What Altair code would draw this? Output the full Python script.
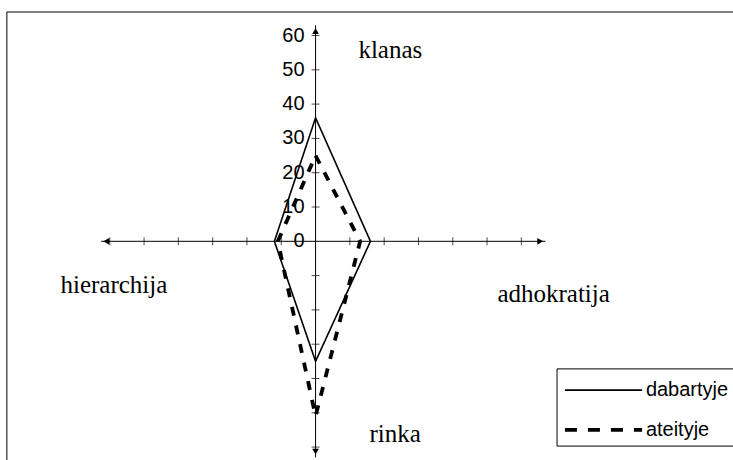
import altair as alt
import pandas as pd

# Four culture types, one per direction of the diagram
culture_types = ["klanas", "adhokratija", "rinka", "hierarchija"]
directions = [(0, 1), (1, 0), (0, -1), (-1, 0)]

# Profile scores for each culture type
series_names = ["dabartyje", "ateityje"]
dabartyje = [36, 16, 35, 12]
ateityje = [25, 13, 51, 11]

# Axis ticks and labels
tick_steps = [10, 20, 30, 40, 50, 60]
label_values = [0, 10, 20, 30, 40, 50, 60]

# Placement of the culture-type captions, in axis units (center x, baseline y)
caption_anchor = {
    "klanas": (21.8, 53.3),
    "adhokratija": (69.4, -17.8),
    "rinka": (23.2, -58.6),
    "hierarchija": (-58.8, -15.0),
}

# Legend box layout, in axis units
LEG_LEFT, LEG_TOP, LEG_BOTTOM = 70.4, -37.2, -59.7
LEG_SYM_X0, LEG_SYM_X1, LEG_TEXT_X = 72.7, 95.2, 96.3
LEG_ROW_Y = [-43.4, -55.0]

X_DOM = [-92.0, 121.7]
Y_DOM = [-63.76, 70.35]
xs = alt.Scale(domain=X_DOM, nice=False, zero=False)
ys = alt.Scale(domain=Y_DOM, nice=False, zero=False)

dash_scale = alt.Scale(domain=series_names, range=[[1, 0], [9, 10]])
key_dash_scale = alt.Scale(domain=series_names, range=[[1, 0], [12, 11]])
width_scale = alt.Scale(domain=series_names, range=[1.6, 3.8])

# Polygon outline for every series (closed by repeating the first vertex)
rows = []
for name, vals in zip(series_names, [dabartyje, ateityje]):
    for i in range(len(vals) + 1):
        k = i % len(vals)
        dx, dy = directions[k]
        rows.append({"series": name, "order": i, "x": dx * vals[k], "y": dy * vals[k]})
poly = pd.DataFrame(rows)

# Axis lines
axis_lines = pd.DataFrame([
    {"x": 0, "x2": 0, "y": 63.0, "y2": -63.0},
    {"x": -62.5, "x2": 67.0, "y": 0, "y2": 0},
])

# Arrow heads at the axis ends
arrows = pd.DataFrame([
    {"x": 0, "y": 61.3, "shape": "triangle-up"},
    {"x": 0, "y": -61.3, "shape": "triangle-down"},
    {"x": -61.0, "y": 0, "shape": "triangle-left"},
    {"x": 65.5, "y": 0, "shape": "triangle-right"},
])

# Tick marks on both axes
vticks = pd.DataFrame({"x": 0, "y": [s for t in tick_steps for s in (t, -t)]})
hticks = pd.DataFrame({"x": [s for t in tick_steps for s in (t, -t)], "y": 0})
vlabels = pd.DataFrame({"x": 0, "y": label_values, "text": [str(v) for v in label_values]})

captions = pd.DataFrame([
    {"text": n, "x": caption_anchor[n][0], "y": caption_anchor[n][1]} for n in culture_types
])

frame = pd.DataFrame([{"x": -90.0, "x2": 130.0, "y": 66.85, "y2": -80.0}])
legend_box = pd.DataFrame([{"x": LEG_LEFT, "x2": 130.0, "y": LEG_TOP, "y2": LEG_BOTTOM}])
legend_rows = pd.DataFrame([
    {"series": n, "x": LEG_SYM_X0, "x2": LEG_SYM_X1, "tx": LEG_TEXT_X, "y": y}
    for n, y in zip(series_names, LEG_ROW_Y)
])

X = lambda f="x": alt.X(f"{f}:Q", scale=xs, axis=None)
Y = lambda f="y": alt.Y(f"{f}:Q", scale=ys, axis=None)

frame_layer = alt.Chart(frame).mark_rect(
    fill=None, stroke="black", strokeWidth=1, clip=True
).encode(x=X(), x2="x2:Q", y=Y(), y2="y2:Q")

axis_layer = alt.Chart(axis_lines).mark_rule(color="black", strokeWidth=1).encode(
    x=X(), x2="x2:Q", y=Y(), y2="y2:Q"
)

arrow_layer = alt.Chart(arrows).mark_point(filled=True, color="black", size=45, opacity=1).encode(
    x=X(), y=Y(),
    shape=alt.Shape("shape:N", scale=None, legend=None),
)

vtick_layer = alt.Chart(vticks).mark_tick(
    orient="horizontal", size=8, thickness=1, color="black"
).encode(x=X(), y=Y())

htick_layer = alt.Chart(hticks).mark_tick(
    orient="vertical", size=8, thickness=1, color="black"
).encode(x=X(), y=Y())

label_layer = alt.Chart(vlabels).mark_text(
    align="right", baseline="middle", dx=-11, font="Liberation Sans", fontSize=20, color="black"
).encode(x=X(), y=Y(), text="text:N")

caption_layer = alt.Chart(captions).mark_text(
    align="center", baseline="alphabetic", font="Liberation Serif", fontSize=25, color="black"
).encode(x=X(), y=Y(), text="text:N")

line_layer = alt.Chart(poly).mark_line(color="black", strokeCap="butt").encode(
    x=X(), y=Y(),
    order="order:Q",
    strokeDash=alt.StrokeDash("series:N", scale=dash_scale, legend=None),
    strokeWidth=alt.StrokeWidth("series:N", scale=width_scale, legend=None),
)

# Legend drawn as a boxed key in the lower right
legend_box_layer = alt.Chart(legend_box).mark_rect(
    fill="white", stroke="black", strokeWidth=1, clip=True
).encode(x=X(), x2="x2:Q", y=Y(), y2="y2:Q")

legend_sym_layer = alt.Chart(legend_rows).mark_rule(color="black", strokeCap="butt").encode(
    x=X(), x2="x2:Q", y=Y(),
    strokeDash=alt.StrokeDash("series:N", scale=key_dash_scale, legend=None),
    strokeWidth=alt.StrokeWidth("series:N", scale=width_scale, legend=None),
)

legend_text_layer = alt.Chart(legend_rows).mark_text(
    align="left", baseline="middle", font="Liberation Sans", fontSize=20, color="black"
).encode(x=X("tx"), y=Y(), text="series:N")

chart = alt.layer(
    frame_layer, axis_layer, arrow_layer, vtick_layer, htick_layer,
    label_layer, caption_layer, line_layer,
    legend_box_layer, legend_sym_layer, legend_text_layer,
).resolve_scale(strokeDash="independent").properties(
    width=733, height=460,
    autosize=alt.AutoSizeParams(type="none"),
    padding=0,
    background="white",
).configure_view(stroke=None)

chart.save("out.html", embed_options={"renderer": "svg", "actions": False})
